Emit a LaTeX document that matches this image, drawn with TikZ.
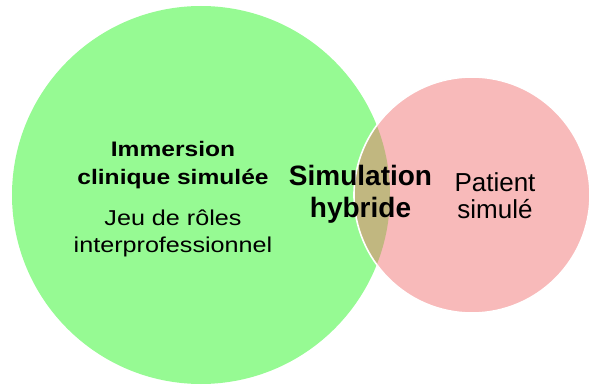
\documentclass[tikz,border=0pt]{standalone}
\usepackage{fontspec}
\setmainfont{Liberation Sans}
\newfontfamily\widefont[FakeStretch=1.17]{Liberation Sans}
\definecolor{greenfill}{RGB}{150,250,147}
\definecolor{pinkfill}{RGB}{248,186,186}
\definecolor{overlapfill}{RGB}{193,183,128}
\tikzset{
  lbl/.style={align=center, anchor=base, inner sep=0pt, text=black},
}
\begin{document}
\begin{tikzpicture}[x=1pt, y=-1pt]
  \useasboundingbox (0,0) rectangle (590,385);
  % two sets
  \coordinate (gc) at (201,195);
  \coordinate (pc) at (472,195);
  \fill[greenfill] (gc) circle[radius=189];
  \fill[pinkfill] (pc) circle[radius=118];
  \begin{scope}
    \clip (gc) circle[radius=189];
    \fill[overlapfill] (pc) circle[radius=118];
  \end{scope}
  \draw[white, line width=1.6pt] (pc) circle[radius=118];
  % labels (anchored at the baseline of the last line)
  \node[lbl, font={\widefont\bfseries\fontsize{21}{28}\selectfont}] (imm) at (173,185)
    {Immersion\\clinique simulée};
  \node[lbl, font={\widefont\fontsize{21.5}{27}\selectfont}] (jeu) at (173,253)
    {Jeu de rôles\\interprofessionnel};
  \node[lbl, font={\bfseries\fontsize{28}{32}\selectfont}] (hyb) at (360.5,218)
    {Simulation\\hybride};
  \node[lbl, font={\fontsize{26}{28}\selectfont}] (pat) at (495,219)
    {Patient\\simulé};
\end{tikzpicture}
\end{document}
